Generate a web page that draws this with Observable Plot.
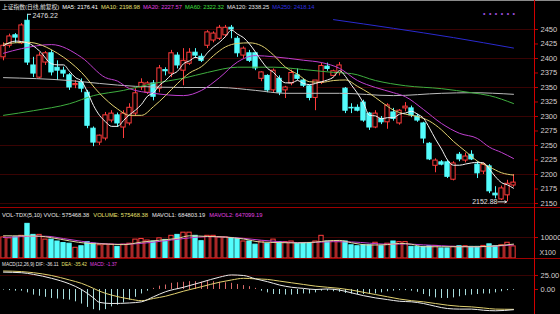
<!DOCTYPE html>
<html><head><meta charset="utf-8">
<script src="https://cdn.jsdelivr.net/npm/d3@7"></script>
<script src="https://cdn.jsdelivr.net/npm/@observablehq/plot@0.6"></script>
<style>
html,body{margin:0;padding:0;background:#000;}
#wrap{position:relative;width:560px;height:314px;background:#000;overflow:hidden;}
#wrap svg{display:block;}
#overlay{position:absolute;left:0;top:0;pointer-events:none;}
</style></head><body>
<div id="wrap"></div>
<script>
// ---- candles (daily OHLC) ----
const open = [
2402,2422,2440,2426,2465,2388,2367,2393,2409,2384,
2379,2371,2354,2358,2341,2279,2255,2262,2293,2302,
2281,2288,2305,2350,2341,2357,2348,2380,2374,2405,
2379,2391,2410,2403,2422,2431,2434,2440,2453,2434,
2405,2409,2409,2365,2370,2345,2365,2345,2357,2371,
2362,2352,2332,2358,2386,2370,2375,2348,2315,2315,
2324,2305,2281,2296,2290,2307,2288,2314,2314,2300,
2288,2253,2215,2221,2221,2191,2234,2224,2234,2217,
2205,2214,2167,2157,2164,2181];
const high = [
2427,2442,2443,2460,2476.22,2402,2410,2412,2414,2396,
2385,2374,2362,2365,2345,2282,2268,2307,2310,2306,
2310,2322,2348,2365,2360,2362,2388,2384,2414,2410,
2417,2417,2417,2408,2448,2446,2457,2457,2457,2438,
2420,2414,2410,2377,2372,2382,2370,2352,2380,2382,
2365,2354,2362,2392,2392,2380,2393,2350,2322,2320,
2328,2307,2310,2300,2322,2314,2312,2324,2318,2304,
2290,2255,2227,2224,2224,2222,2238,2237,2241,2222,
2220,2217,2179,2180,2190,2200];
const low = [
2396,2418,2426,2424,2388,2367,2365,2388,2370,2362,
2367,2345,2348,2341,2279,2248,2250,2258,2289,2281,
2262,2284,2300,2345,2338,2327,2341,2370,2367,2382,
2353,2388,2400,2393,2417,2427,2431,2436,2434,2402,
2400,2393,2379,2360,2341,2340,2336,2331,2353,2362,
2350,2327,2310,2355,2378,2368,2370,2305,2305,2308,
2290,2276,2279,2286,2278,2292,2285,2308,2298,2290,
2253,2224,2203,2215,2193,2189,2222,2220,2224,2193,
2200,2167,2158,2155,2152.88,2178];
const close = [
2422,2438,2436,2457,2393,2374,2405,2409,2376,2379,
2374,2350,2356,2348,2284,2255,2267,2302,2305,2288,
2305,2315,2340,2358,2357,2334,2383,2378,2409,2388,
2396,2410,2405,2396,2445,2443,2453,2453,2450,2409,
2417,2396,2383,2376,2345,2379,2341,2350,2375,2365,
2353,2332,2362,2387,2382,2378,2388,2310,2314,2310,
2293,2281,2305,2290,2319,2296,2310,2317,2302,2293,
2262,2226,2224,2217,2196,2219,2226,2231,2226,2202,
2217,2171,2164,2176,2184,2186];
// ---- moving averages: [day index, value] ----
const ma5 = [[0,2422],[2,2430],[4,2427],[6,2413],[8,2391],[9,2389],[10,2389],[11,2378],[12,2367],[13,2361],[14,2342],[15,2319],[16,2302],[17,2291],[18,2283],[19,2283],[20,2293],[21,2303],[22,2311],[23,2321],[24,2335],[25,2341],[26,2354],[27,2362],[28,2372],[29,2378],[30,2391],[31,2396],[32,2402],[33,2399],[34,2410],[35,2420],[36,2428],[37,2438],[38,2449],[39,2442],[40,2436],[41,2425],[42,2411],[43,2396],[44,2383],[45,2376],[46,2365],[47,2358],[48,2358],[49,2362],[50,2357],[51,2355],[52,2357],[53,2360],[54,2363],[55,2368],[56,2379],[57,2369],[58,2354],[59,2340],[60,2323],[61,2302],[62,2301],[63,2296],[64,2298],[65,2298],[66,2304],[67,2306],[68,2309],[69,2304],[70,2297],[71,2280],[72,2261],[73,2244],[74,2225],[75,2216],[76,2216],[77,2218],[78,2220],[79,2221],[80,2220],[81,2209],[82,2196],[83,2186],[84,2182],[85,2176.41]];
const ma10 = [[0,2425],[4,2428],[9,2409],[13,2376],[16,2340],[19,2313],[21,2302],[23,2302],[25,2317],[27,2336],[29,2357],[31,2375],[33,2386],[35,2405],[37,2420],[39,2426],[41,2427],[43,2422],[45,2406],[47,2385],[49,2373],[51,2360],[53,2359],[55,2362],[57,2363],[59,2352],[61,2340],[63,2325],[65,2311],[67,2304],[69,2300],[71,2292],[73,2277],[75,2257],[77,2240],[79,2223],[81,2213],[83,2203],[85,2198.98]];
const ma20 = [[0,2409],[3,2417],[8,2424],[13,2402],[17,2367],[19,2361],[21,2348],[25,2340],[30,2336],[33,2345],[36,2367],[39,2394],[42,2405],[45,2403],[50,2397],[53,2393],[56,2383],[59,2362],[62,2350],[65,2341],[67,2334],[70,2312],[73,2288],[76,2271],[79,2262],[81,2247],[83,2238],[85,2227.57]];
const ma60 = [[0,2302],[5,2310],[11,2322],[15,2336],[20,2345],[25,2357],[30,2366],[34,2376],[39,2385],[45,2385],[50,2381],[55,2376],[58,2374],[62,2362],[67,2353],[73,2348],[78,2341],[81,2336],[85,2322.32]];
const ma120 = [[0,2367],[11,2362],[16,2357],[22,2352],[30,2350],[36,2350],[42,2345],[47,2340],[56,2340],[65,2336],[73,2340],[78,2341],[85,2338.25]];
const ma250 = [[55,2467],[65,2452],[75,2436],[85,2418]];
const priceTicks = [2150,2175,2200,2225,2250,2275,2300,2325,2350,2375,2400,2425,2450];
const priceGrid = [2150,2200,2250,2300,2350,2400,2450];
// ---- volume ----
const vol = [
1005000,960000,1005000,1080000,1650000,1125000,1125000,900000,900000,810000,
735000,705000,510000,585000,780000,705000,630000,660000,660000,555000,
660000,705000,900000,930000,855000,810000,960000,885000,1080000,1125000,
1230000,1230000,1080000,825000,1080000,1080000,1005000,1005000,975000,930000,
810000,810000,660000,810000,705000,900000,780000,780000,810000,705000,
735000,735000,810000,1080000,810000,810000,810000,810000,630000,585000,
630000,630000,750000,585000,705000,810000,780000,780000,555000,555000,
555000,585000,600000,480000,480000,555000,585000,585000,555000,555000,
600000,675000,585000,630000,750000,575468];
const mavol1 = [[0,1080000],[3,1080000],[6,1065000],[8,990000],[11,840000],[14,720000],[17,690000],[20,660000],[23,780000],[26,870000],[29,960000],[31,1080000],[34,1050000],[37,1020000],[40,930000],[43,780000],[46,760000],[49,740000],[52,780000],[54,840000],[56,860000],[58,750000],[61,640000],[64,660000],[66,720000],[68,680000],[70,560000],[73,560000],[76,560000],[79,560000],[82,600000],[85,684803]];
const mavol2 = [[0,1000000],[4,1050000],[7,1060000],[10,950000],[13,820000],[16,720000],[19,680000],[22,700000],[25,780000],[28,880000],[31,980000],[34,1040000],[37,1020000],[40,960000],[43,870000],[46,800000],[49,760000],[52,770000],[55,800000],[58,790000],[61,730000],[64,680000],[67,690000],[70,650000],[73,610000],[76,570000],[79,560000],[82,590000],[85,647099]];
const volTicks = [1000000];
// ---- MACD ----
const macd = [
-1,-2,-3,-3,-6,-10,-12,-14,-16,-17,
-18,-19,-22,-26,-32,-36,-38,-36,-31,-28,
-24,-19,-14,-8,-3,2,6,8,11,12,
13,14,14,13,14,14,13,12,11,9,
7,5,2,-3,-6,-9,-9,-10,-10,-9,
-8,-8,-6,-3,-3,-4,-5,-7,-8,-9,
-9,-9,-8,-6,-4,-3,-2,-2,-3,-5,
-9,-13,-15,-16,-16,-15,-13,-11,-10,-9,
-8,-8,-6,-4,-2,-1.37];
const dif = [[0,31],[3,30],[5,27],[8,20],[11,10],[13,0],[15,-15],[16,-23],[18,-25],[21,-24],[23,-22],[25,-13],[27,-4],[30,4],[33,13],[36,22],[38,26],[40,25],[42,19],[44,14],[46,8],[48,4],[50,2],[52,0],[54,1],[56,-1],[58,-6],[60,-11],[62,-15],[64,-18],[66,-21],[68,-22],[70,-25],[72,-30],[74,-34],[76,-35],[78,-35],[80,-37],[82,-38],[85,-36.11]];
const dea = [[0,33],[3,32],[5,30],[8,25],[11,17],[13,11],[15,2],[16,-3],[18,-10],[21,-17],[23,-20],[25,-16],[27,-12],[30,-3],[33,5],[36,13],[38,17],[40,20],[42,19],[44,18],[46,15],[48,12],[50,9],[52,6],[54,4],[56,2],[58,-1],[60,-5],[62,-9],[64,-13],[66,-17],[68,-20],[70,-22],[72,-25],[74,-28],[76,-30],[78,-31],[80,-33],[82,-35],[85,-35.42]];
const macdTicks = [0, 25];

// ---- header texts ----
const titleRow = [
 ["上证指数(日线,前复权)", "#e8e8e8"],
 ["MA5: 2176.41", "#ffffff"],
 ["MA10: 2198.98", "#e8e070"],
 ["MA20: 2227.57", "#e040e0"],
 ["MA60: 2322.32", "#40e040"],
 ["MA120: 2338.25", "#e8e8e8"],
 ["MA250: 2418.14", "#3030e0"]];
const volRow = [
 ["VOL-TDX(5,10) VVOL: 575468.38", "#e8e8e8"],
 ["VOLUME: 575468.38", "#e8e070"],
 ["MAVOL1: 684803.19", "#e8e8e8"],
 ["MAVOL2: 647099.19", "#e040e0"]];
const macdRow = [
 ["MACD(12,26,9) DIF: -36.11", "#e8e8e8"],
 ["DEA: -35.42", "#e8e070"],
 ["MACD: -1.37", "#e040e0"]];

// ---------------------------------------------------------
const N = close.length;
const candles = d3.range(N).map(i => ({i, open: open[i], high: high[i], low: low[i], close: close[i], vol: vol[i], macd: macd[i], up: close[i] >= open[i]}));
const RED = "#ff3c3c", CYAN = "#54fcfc", AXRED = "#c00000", LBL = "#d8d0d0", GRID = "#3a0404";
const W = 560, MR = 26;
const xDom = [-0.5, N + 2.5];
const hw = 0.36;
const pts = a => a.map(([i, v]) => ({i, v}));
const FONT = "'Liberation Sans', Arial, sans-serif";
const baseStyle = {background: "#000", color: LBL, fontSize: "7.5px", fontFamily: FONT, overflow: "visible"};
const wrap = document.getElementById("wrap");

// Main price panel
const hiI = d3.maxIndex(high), loI = d3.minIndex(low);
const main = Plot.plot({
  width: W, height: 209, marginTop: 0, marginBottom: 0, marginLeft: 0, marginRight: MR,
  style: baseStyle,
  x: {domain: xDom, axis: null},
  y: {domain: [2139.655, 2500], axis: null},
  color: {type: "identity"},
  marks: [
    Plot.ruleY(priceGrid, {stroke: GRID}),
    Plot.axisY({anchor: "right", ticks: priceTicks, tickSize: 3, tickPadding: 3, stroke: AXRED, fill: LBL, tickFormat: d => String(d)}),
    Plot.ruleX(candles, {x: "i", y1: "low", y2: "high", stroke: d => d.up ? RED : CYAN, strokeWidth: 1}),
    Plot.rect(candles, {x1: d => d.i - hw, x2: d => d.i + hw, y1: "open", y2: "close", fill: d => d.up ? "#000" : CYAN, stroke: d => d.up ? RED : CYAN, strokeWidth: 1}),
    Plot.line(pts(ma120), {x: "i", y: "v", stroke: "#bdbdbd", strokeWidth: 1, curve: "monotone-x"}),
    Plot.line(pts(ma60), {x: "i", y: "v", stroke: "#3fae3f", strokeWidth: 1, curve: "monotone-x"}),
    Plot.line(pts(ma250), {x: "i", y: "v", stroke: "#2a2ad0", strokeWidth: 1, curve: "monotone-x"}),
    Plot.line(pts(ma20), {x: "i", y: "v", stroke: "#c040d0", strokeWidth: 1, curve: "monotone-x"}),
    Plot.line(pts(ma10), {x: "i", y: "v", stroke: "#e0d070", strokeWidth: 1, curve: "monotone-x"}),
    Plot.line(pts(ma5), {x: "i", y: "v", stroke: "#f4f4f4", strokeWidth: 1, curve: "monotone-x"}),
    Plot.link([{i: hiI, v: high[hiI]}], {x1: "i", y1: "v", x2: d => d.i + 0.6, y2: "v", stroke: "#e0e0e0", strokeWidth: 1}),
    Plot.text([{i: hiI, v: high[hiI]}], {x: "i", y: "v", text: d => d.v.toFixed(2), dx: 5, dy: 1.5, textAnchor: "start", fill: "#e0e0e0", fontSize: 7}),
    Plot.arrow([{i: loI, v: low[loI]}], {x1: d => d.i - 1.6, y1: "v", x2: d => d.i - 0.15, y2: "v", stroke: "#e0e0e0", strokeWidth: 1, headLength: 3}),
    Plot.text([{i: loI, v: low[loI]}], {x: "i", y: "v", text: d => d.v.toFixed(2), dx: -10, dy: 0, textAnchor: "end", fill: "#e0e0e0", fontSize: 7})
  ]
});
wrap.appendChild(main);

// Volume panel
const volTop = 2333333;
const volPlot = Plot.plot({
  width: W, height: 50, marginTop: 0, marginBottom: 1, marginLeft: 0, marginRight: MR,
  style: baseStyle,
  x: {domain: xDom, axis: null},
  y: {domain: [0, volTop], axis: null},
  color: {type: "identity"},
  marks: [
    Plot.ruleY(volTicks, {stroke: GRID}),
    Plot.axisY({anchor: "right", ticks: volTicks, tickSize: 3, tickPadding: 3, stroke: AXRED, fill: LBL, tickFormat: d => String(d / 100)}),
    Plot.text(["X100"], {frameAnchor: "bottom-right", dx: 5, dy: -4, textAnchor: "start", fill: LBL, fontSize: 7}),
    Plot.rect(candles, {x1: d => d.i - hw, x2: d => d.i + hw, y1: 0, y2: "vol", fill: d => d.up ? "#000" : CYAN, stroke: d => d.up ? RED : CYAN, strokeWidth: 1}),
    Plot.line(pts(mavol2), {x: "i", y: "v", stroke: "#c040d0", strokeWidth: 1, curve: "monotone-x"}),
    Plot.line(pts(mavol1), {x: "i", y: "v", stroke: "#e0d8a0", strokeWidth: 1, curve: "monotone-x"})
  ]
});
wrap.appendChild(volPlot);

// MACD panel
const macdPlot = Plot.plot({
  width: W, height: 55, marginTop: 0, marginBottom: 0, marginLeft: 0, marginRight: MR,
  style: baseStyle,
  x: {domain: xDom, axis: null},
  y: {domain: [-44.643, 53.571], axis: null},
  color: {type: "identity"},
  marks: [
    Plot.ruleY([25], {stroke: GRID}),
    Plot.axisY({anchor: "right", ticks: macdTicks, tickSize: 3, tickPadding: 3, stroke: AXRED, fill: LBL, tickFormat: d => d.toFixed(2)}),
    Plot.ruleX(candles, {x: "i", y1: 0, y2: "macd", stroke: d => d.macd >= 0 ? "#d86a6a" : "#a8dede", strokeWidth: 1}),
    Plot.line(pts(dea), {x: "i", y: "v", stroke: "#e0d070", strokeWidth: 1, curve: "monotone-x"}),
    Plot.line(pts(dif), {x: "i", y: "v", stroke: "#ececec", strokeWidth: 1, curve: "monotone-x"})
  ]
});
wrap.appendChild(macdPlot);

// Overlay: frame lines and header texts
const ov = d3.select(wrap).append("svg").attr("id", "overlay").attr("width", W).attr("height", 314);
const frameLines = [
  [0, 0.5, W, 0.5, "#8a8a8a"],
  [0, 207.5, W, 207.5, "#a00000"],
  [0, 258.5, W, 258.5, "#a00000"],
  [534.5, 0, 534.5, 314, "#d00000"]];
ov.selectAll("line").data(frameLines).join("line")
  .attr("x1", d => d[0]).attr("y1", d => d[1]).attr("x2", d => d[2]).attr("y2", d => d[3])
  .attr("stroke", d => d[4]).attr("stroke-width", 1);
// lay a row of header texts out left to right, sized to fill [x0, x1]
function row(items, y, x0, x1, gap) {
  const texts = ov.append("g").selectAll("text").data(items).join("text")
    .attr("y", y).attr("fill", d => d[1])
    .attr("font-family", "'Liberation Sans', 'Noto Sans CJK SC', Arial, sans-serif")
    .attr("font-size", 10).text(d => d[0]);
  const total = d3.sum(texts.nodes(), n => n.getComputedTextLength());
  const fs = 10 * (x1 - x0 - gap * (items.length - 1)) / total;
  texts.attr("font-size", fs.toFixed(2));
  let x = x0;
  texts.each(function() { d3.select(this).attr("x", x.toFixed(1)); x += this.getComputedTextLength() + gap; });
}
row(titleRow, 9, 2, 315, 3);
row(volRow, 217, 2, 263, 4);
row(macdRow, 266, 2, 117, 3);
ov.append("text").attr("x", 483).attr("y", 16).attr("fill", "#a050e0")
  .attr("font-size", 7).attr("font-family", FONT)
  .attr("textLength", 32).attr("lengthAdjust", "spacing").text("• • • • • •");
</script>
</body></html>
